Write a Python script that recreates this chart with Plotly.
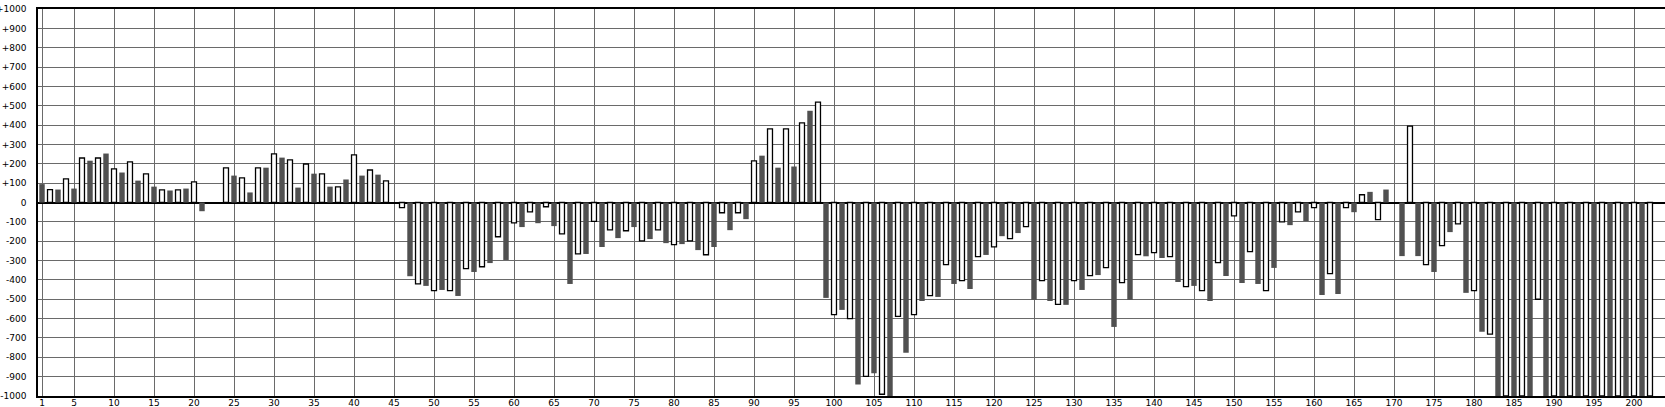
import plotly.graph_objects as go

# Odd positions (dark bars)
x_dark = list(range(1, 203, 2))
dark_values = [
    95, 67, 72, 216, 253, 155, 113, 82, 62, 72, -45,
    None,
    139, 52, 180, 232, 77, 149, 82, 119, 139, 144,
    None,
    -381, -431, -452, -483, -359, -313, -297, -127, -107, -122,
    -421, -266, -230, -184, -127, -189, -210, -215, -246, -230,
    -143, -86, 242, 180, 186, 474, -493, -555, -940, -883,
    -1000, -777, -509, -488, -421, -447, -271, -174, -158, -503,
    -509, -529, -452, -375, -643, -503, -278, -287, -411, -431,
    -509, -380, -416, -421, -338, -117, -96, -478, -473, -50,
    55, 67, -277, -277, -359, -153, -467, -668,
    -1000, -1000, -1000, -1000, -1000, -1000, -1000, -1000, -1000, -1000,
]

# Even positions (white bars)
x_white = list(range(2, 203, 2))
white_values = [
    67, 122, 230, 230, 174, 210, 148, 65, 65, 107,
    None,
    179, 127, 179, 251, 220, 199, 148, 81, 246, 168, 112,
    -27, -421, -455, -455, -342, -332, -177, -105, -48, -22,
    -162, -265, -98, -141, -146, -198, -141, -218, -198, -270,
    -53, -53, 215, 380, 380, 411, 519, -579, -600, -899,
    -991, -589, -579, -481, -321, -404, -280, -229, -187, -125,
    -404, -527, -404, -378, -337, -414, -269, -259, -280, -435,
    -455, -311, -69, -254, -455, -100, -48, -27, -368, -27,
    40, -89,
    None,
    395, -321, -223, -110, -455, -680,
    -1000, -1000, -500,
    -1000, -1000, -1000, -1000, -1000, -1000, -1000,
]

x_tick_vals = [1] + list(range(5, 201, 5))
x_tick_text = [str(v) for v in x_tick_vals]
y_tick_vals = list(range(-1000, 1001, 100))
y_tick_text = [("+" + str(v)) if v > 0 else str(v) for v in y_tick_vals]

FONT = "DejaVu Sans, Verdana, sans-serif"

fig = go.Figure()
fig.add_trace(go.Bar(
    x=x_dark, y=dark_values, width=0.68,
    marker=dict(color="#505050", line=dict(width=0)),
    name="odd",
))
fig.add_trace(go.Bar(
    x=x_white, y=white_values, width=0.62,
    marker=dict(color="#ffffff", line=dict(color="#000000", width=1.3)),
    name="even",
))

fig.update_layout(
    width=1665, height=407,
    margin=dict(l=38, r=0, t=9, b=11, autoexpand=False),
    paper_bgcolor="#ffffff", plot_bgcolor="#ffffff",
    barmode="overlay",
    showlegend=False,
    font=dict(family=FONT, size=9, color="#000000"),
)
fig.update_xaxes(
    automargin=False,
    range=[0.5, 0.5 + 1627 / 8],
    tickvals=x_tick_vals, ticktext=x_tick_text,
    showgrid=True, gridcolor="#6a6a6a", gridwidth=1,
    showline=True, linecolor="#000000", linewidth=1.5, mirror=True,
    ticks="", zeroline=False,
    ticklabelstandoff=-3,
    tickfont=dict(family=FONT, size=9, color="#000000"),
)
fig.update_yaxes(
    automargin=False,
    range=[-1000, 1000],
    tickvals=y_tick_vals, ticktext=y_tick_text,
    showgrid=True, gridcolor="#6a6a6a", gridwidth=1,
    showline=True, linecolor="#000000", linewidth=1.5, mirror=False,
    ticks="outside", ticklen=8, tickcolor="rgba(0,0,0,0)",
    zeroline=True, zerolinecolor="#000000", zerolinewidth=1.5,
    tickfont=dict(family=FONT, size=9, color="#000000"),
)

fig.write_html(
    "out.html",
    config={"displayModeBar": False},
    post_script="document.body.style.margin='0px';document.body.style.overflow='hidden';",
)
